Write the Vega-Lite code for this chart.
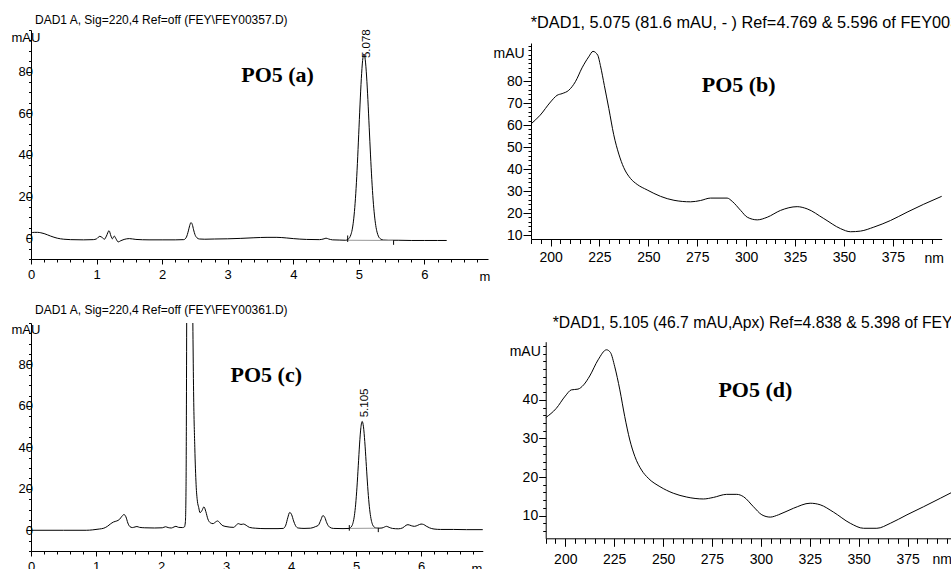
{
  "$schema": "https://vega.github.io/schema/vega-lite/v6.json",
  "width": 951,
  "height": 569,
  "autosize": "none",
  "padding": 0,
  "background": "white",
  "config": {
    "view": {"stroke": null},
    "axis": {
      "grid": false,
      "labelFont": "Liberation Sans",
      "titleFont": "Liberation Sans",
      "titleFontWeight": "normal",
      "domainColor": "#000",
      "tickColor": "#000",
      "labelColor": "#000",
      "titleColor": "#000",
      "labelOverlap": false,
      "labelFlush": false,
      "labelBound": false,
      "domainWidth": 1,
      "tickWidth": 1
    }
  },
  "datasets": {
    "chromA": [
      {"time": 0, "mAU": 2.6}, {"time": 0.05, "mAU": 2.8}, {"time": 0.1, "mAU": 2.8}, {"time": 0.15, "mAU": 2.6}, {"time": 0.2, "mAU": 2.2},
      {"time": 0.3, "mAU": 1.0}, {"time": 0.4, "mAU": 0.0}, {"time": 0.5, "mAU": -0.5}, {"time": 0.6, "mAU": -0.7}, {"time": 0.8, "mAU": -0.8},
      {"time": 0.95, "mAU": -0.7}, {"time": 1.0, "mAU": -0.3}, {"time": 1.05, "mAU": 0.9}, {"time": 1.09, "mAU": 0.2}, {"time": 1.12, "mAU": -0.5},
      {"time": 1.15, "mAU": 1.0}, {"time": 1.19, "mAU": 3.6}, {"time": 1.22, "mAU": 1.0}, {"time": 1.24, "mAU": -0.3}, {"time": 1.27, "mAU": 1.0},
      {"time": 1.3, "mAU": -0.5}, {"time": 1.33, "mAU": -1.8}, {"time": 1.37, "mAU": -1.2}, {"time": 1.42, "mAU": -0.6}, {"time": 1.5, "mAU": -0.2},
      {"time": 1.6, "mAU": -0.6}, {"time": 1.8, "mAU": -0.8}, {"time": 2.0, "mAU": -0.8}, {"time": 2.2, "mAU": -0.8}, {"time": 2.33, "mAU": -0.7},
      {"time": 2.37, "mAU": 0.5}, {"time": 2.4, "mAU": 3.5}, {"time": 2.42, "mAU": 6.0}, {"time": 2.44, "mAU": 7.5}, {"time": 2.46, "mAU": 6.6},
      {"time": 2.48, "mAU": 4.0}, {"time": 2.5, "mAU": 1.8}, {"time": 2.53, "mAU": 0.2}, {"time": 2.57, "mAU": -0.4}, {"time": 2.65, "mAU": -0.5},
      {"time": 2.8, "mAU": -0.4}, {"time": 3.0, "mAU": -0.3}, {"time": 3.2, "mAU": -0.1}, {"time": 3.4, "mAU": 0.2}, {"time": 3.6, "mAU": 0.4},
      {"time": 3.75, "mAU": 0.4}, {"time": 3.9, "mAU": 0.1}, {"time": 4.0, "mAU": -0.2}, {"time": 4.2, "mAU": -0.6}, {"time": 4.4, "mAU": -0.7},
      {"time": 4.47, "mAU": -0.3}, {"time": 4.5, "mAU": 0.0}, {"time": 4.54, "mAU": -0.4}, {"time": 4.6, "mAU": -0.8}, {"time": 4.7, "mAU": -0.9},
      {"time": 4.8, "mAU": -1.0}, {"time": 4.838, "mAU": -0.5}, {"time": 4.858, "mAU": 0.2}, {"time": 4.878, "mAU": 1.6}, {"time": 4.898, "mAU": 4.0},
      {"time": 4.918, "mAU": 8.2}, {"time": 4.938, "mAU": 14.7}, {"time": 4.958, "mAU": 23.9}, {"time": 4.978, "mAU": 35.8}, {"time": 4.998, "mAU": 49.7},
      {"time": 5.018, "mAU": 64.0}, {"time": 5.038, "mAU": 76.6}, {"time": 5.058, "mAU": 85.4}, {"time": 5.078, "mAU": 88.5}, {"time": 5.098, "mAU": 85.7},
      {"time": 5.118, "mAU": 77.9}, {"time": 5.138, "mAU": 66.6}, {"time": 5.158, "mAU": 53.3}, {"time": 5.178, "mAU": 40.0}, {"time": 5.198, "mAU": 28.1},
      {"time": 5.218, "mAU": 18.3}, {"time": 5.238, "mAU": 11.1}, {"time": 5.258, "mAU": 6.1}, {"time": 5.278, "mAU": 2.9}, {"time": 5.298, "mAU": 1.0},
      {"time": 5.328, "mAU": -0.3}, {"time": 5.378, "mAU": -0.9}, {"time": 5.45, "mAU": -1.0}, {"time": 5.6, "mAU": -1.0}, {"time": 5.8, "mAU": -1.1},
      {"time": 6.0, "mAU": -1.1}, {"time": 6.2, "mAU": -1.1}, {"time": 6.34, "mAU": -1.1}
    ],
    "chromC": [
      {"time": 0, "mAU": 0.0}, {"time": 0.5, "mAU": 0.0}, {"time": 0.85, "mAU": 0.0}, {"time": 0.95, "mAU": 0.2}, {"time": 1.05, "mAU": 0.6},
      {"time": 1.12, "mAU": 1.0}, {"time": 1.18, "mAU": 2.0}, {"time": 1.22, "mAU": 3.0}, {"time": 1.27, "mAU": 4.0}, {"time": 1.32, "mAU": 4.5},
      {"time": 1.36, "mAU": 5.2}, {"time": 1.4, "mAU": 6.8}, {"time": 1.43, "mAU": 7.6}, {"time": 1.46, "mAU": 6.5}, {"time": 1.49, "mAU": 3.5},
      {"time": 1.52, "mAU": 1.8}, {"time": 1.56, "mAU": 1.3}, {"time": 1.6, "mAU": 1.6}, {"time": 1.63, "mAU": 1.8}, {"time": 1.67, "mAU": 1.4},
      {"time": 1.75, "mAU": 1.2}, {"time": 1.9, "mAU": 1.1}, {"time": 2.02, "mAU": 1.2}, {"time": 2.07, "mAU": 1.7}, {"time": 2.11, "mAU": 1.3},
      {"time": 2.16, "mAU": 1.1}, {"time": 2.2, "mAU": 1.6}, {"time": 2.23, "mAU": 1.9}, {"time": 2.27, "mAU": 1.4}, {"time": 2.33, "mAU": 1.3},
      {"time": 2.36, "mAU": 1.6}, {"time": 2.375, "mAU": 4}, {"time": 2.385, "mAU": 20}, {"time": 2.39, "mAU": 50}, {"time": 2.395, "mAU": 100},
      {"time": 2.44, "mAU": null},
      {"time": 2.49, "mAU": 100}, {"time": 2.5, "mAU": 70}, {"time": 2.52, "mAU": 40}, {"time": 2.54, "mAU": 22}, {"time": 2.56, "mAU": 14},
      {"time": 2.58, "mAU": 11}, {"time": 2.6, "mAU": 8.5}, {"time": 2.63, "mAU": 9.5}, {"time": 2.66, "mAU": 11.3}, {"time": 2.69, "mAU": 9},
      {"time": 2.72, "mAU": 5.5}, {"time": 2.76, "mAU": 3.6}, {"time": 2.8, "mAU": 3.2}, {"time": 2.84, "mAU": 4.0}, {"time": 2.87, "mAU": 4.5},
      {"time": 2.9, "mAU": 3.8}, {"time": 2.94, "mAU": 2.4}, {"time": 3.0, "mAU": 1.8}, {"time": 3.06, "mAU": 1.5}, {"time": 3.12, "mAU": 1.4},
      {"time": 3.16, "mAU": 2.6}, {"time": 3.19, "mAU": 3.2}, {"time": 3.23, "mAU": 2.8}, {"time": 3.27, "mAU": 3.0}, {"time": 3.31, "mAU": 2.4},
      {"time": 3.36, "mAU": 1.4}, {"time": 3.45, "mAU": 1.0}, {"time": 3.6, "mAU": 0.8}, {"time": 3.8, "mAU": 0.8}, {"time": 3.88, "mAU": 0.9},
      {"time": 3.92, "mAU": 2.5}, {"time": 3.95, "mAU": 6.0}, {"time": 3.98, "mAU": 8.6}, {"time": 4.01, "mAU": 7.5}, {"time": 4.04, "mAU": 4.5},
      {"time": 4.07, "mAU": 2.2}, {"time": 4.11, "mAU": 1.1}, {"time": 4.2, "mAU": 0.9}, {"time": 4.3, "mAU": 1.0}, {"time": 4.38, "mAU": 1.8},
      {"time": 4.42, "mAU": 2.4}, {"time": 4.46, "mAU": 5.0}, {"time": 4.49, "mAU": 7.1}, {"time": 4.52, "mAU": 6.2}, {"time": 4.55, "mAU": 3.6},
      {"time": 4.59, "mAU": 1.6}, {"time": 4.65, "mAU": 0.9}, {"time": 4.8, "mAU": 0.8}, {"time": 4.9, "mAU": 0.9}, {"time": 4.915, "mAU": 1.3},
      {"time": 4.935, "mAU": 2.0}, {"time": 4.955, "mAU": 3.7}, {"time": 4.975, "mAU": 7.0}, {"time": 4.995, "mAU": 12.6}, {"time": 5.015, "mAU": 20.8},
      {"time": 5.035, "mAU": 31.1}, {"time": 5.055, "mAU": 41.6}, {"time": 5.075, "mAU": 49.5}, {"time": 5.095, "mAU": 52.5}, {"time": 5.115, "mAU": 49.9},
      {"time": 5.135, "mAU": 42.8}, {"time": 5.155, "mAU": 33.2}, {"time": 5.175, "mAU": 23.3}, {"time": 5.195, "mAU": 14.9}, {"time": 5.215, "mAU": 8.8},
      {"time": 5.235, "mAU": 4.9}, {"time": 5.255, "mAU": 2.7}, {"time": 5.275, "mAU": 1.7}, {"time": 5.305, "mAU": 1.1}, {"time": 5.35, "mAU": 1.0},
      {"time": 5.4, "mAU": 1.1}, {"time": 5.44, "mAU": 1.6}, {"time": 5.47, "mAU": 1.9}, {"time": 5.51, "mAU": 1.4}, {"time": 5.56, "mAU": 0.9},
      {"time": 5.65, "mAU": 0.7}, {"time": 5.72, "mAU": 1.2}, {"time": 5.77, "mAU": 2.4}, {"time": 5.8, "mAU": 2.7}, {"time": 5.85, "mAU": 2.2},
      {"time": 5.9, "mAU": 1.9}, {"time": 5.95, "mAU": 2.4}, {"time": 6.0, "mAU": 3.0}, {"time": 6.04, "mAU": 2.8}, {"time": 6.08, "mAU": 2.0},
      {"time": 6.13, "mAU": 1.2}, {"time": 6.2, "mAU": 0.6}, {"time": 6.3, "mAU": 0.4}, {"time": 6.5, "mAU": 0.4}, {"time": 6.7, "mAU": 0.3},
      {"time": 6.95, "mAU": 0.3}
    ],
    "specB": [
      {"nm": 190, "mAU": 60.5}, {"nm": 194.7, "mAU": 64.5}, {"nm": 200, "mAU": 70.5}, {"nm": 203.3, "mAU": 73.5}, {"nm": 205.9, "mAU": 74.3},
      {"nm": 209.3, "mAU": 75.8}, {"nm": 212.7, "mAU": 79.7}, {"nm": 216.1, "mAU": 86}, {"nm": 219.5, "mAU": 91}, {"nm": 221.7, "mAU": 93.5},
      {"nm": 224.1, "mAU": 91.8}, {"nm": 225.5, "mAU": 87}, {"nm": 227.5, "mAU": 78}, {"nm": 229.8, "mAU": 67.5}, {"nm": 232.3, "mAU": 55.6},
      {"nm": 234.9, "mAU": 46.8}, {"nm": 237.4, "mAU": 40.7}, {"nm": 240.9, "mAU": 35.7}, {"nm": 244.3, "mAU": 33}, {"nm": 249.4, "mAU": 30.5},
      {"nm": 256.2, "mAU": 27.6}, {"nm": 263.1, "mAU": 25.8}, {"nm": 271.6, "mAU": 25.1}, {"nm": 276.7, "mAU": 25.7}, {"nm": 281.8, "mAU": 26.8},
      {"nm": 290.3, "mAU": 26.8}, {"nm": 292.9, "mAU": 25.3}, {"nm": 297.2, "mAU": 21.2}, {"nm": 300.6, "mAU": 18.1}, {"nm": 305.7, "mAU": 16.9},
      {"nm": 310.8, "mAU": 18.1}, {"nm": 317.6, "mAU": 21.2}, {"nm": 326.1, "mAU": 22.9}, {"nm": 331.2, "mAU": 21.9}, {"nm": 339.7, "mAU": 17.5},
      {"nm": 348.3, "mAU": 12.9}, {"nm": 353.4, "mAU": 11.5}, {"nm": 358.5, "mAU": 11.8}, {"nm": 365.3, "mAU": 13.6}, {"nm": 373.8, "mAU": 16.6},
      {"nm": 382.3, "mAU": 20.4}, {"nm": 390.8, "mAU": 24}, {"nm": 400, "mAU": 27.6}
    ],
    "specD": [
      {"nm": 190, "mAU": 35.4}, {"nm": 195.4, "mAU": 37.8}, {"nm": 200, "mAU": 41}, {"nm": 203.1, "mAU": 42.6}, {"nm": 206.5, "mAU": 42.8},
      {"nm": 209.4, "mAU": 43.9}, {"nm": 212.5, "mAU": 46.2}, {"nm": 216.8, "mAU": 50.4}, {"nm": 221.1, "mAU": 53}, {"nm": 223.1, "mAU": 52.3},
      {"nm": 225.3, "mAU": 48.6}, {"nm": 227.9, "mAU": 42.6}, {"nm": 230.4, "mAU": 35.7}, {"nm": 233, "mAU": 29.6}, {"nm": 235.6, "mAU": 25.3},
      {"nm": 239, "mAU": 21.8}, {"nm": 242.4, "mAU": 19.7}, {"nm": 248.4, "mAU": 17.5}, {"nm": 255.2, "mAU": 15.8}, {"nm": 262.1, "mAU": 14.8},
      {"nm": 270.6, "mAU": 14.3}, {"nm": 275.7, "mAU": 14.7}, {"nm": 282.5, "mAU": 15.5}, {"nm": 287.7, "mAU": 15.5}, {"nm": 291.1, "mAU": 14.9},
      {"nm": 296.2, "mAU": 12.3}, {"nm": 300.5, "mAU": 10.2}, {"nm": 304.8, "mAU": 9.6}, {"nm": 309, "mAU": 10.2}, {"nm": 316.7, "mAU": 11.9},
      {"nm": 325.2, "mAU": 13.2}, {"nm": 330.3, "mAU": 12.8}, {"nm": 337.1, "mAU": 10.9}, {"nm": 345.7, "mAU": 8.0}, {"nm": 352.5, "mAU": 6.7},
      {"nm": 359.3, "mAU": 6.7}, {"nm": 366.2, "mAU": 8.0}, {"nm": 374.7, "mAU": 10.2}, {"nm": 383.2, "mAU": 12.3}, {"nm": 391.8, "mAU": 14.5},
      {"nm": 397.2, "mAU": 15.9}
    ]
  },
  "layer": [
    {
      "layer": [
        {
          "data": {"name": "chromA"},
          "mark": {"type": "line", "color": "#000", "strokeWidth": 1, "interpolate": "monotone"},
          "encoding": {
            "x": {"field": "time", "type": "quantitative",
              "scale": {"domain": [0, 6.97], "range": [31, 488], "nice": false, "zero": false},
              "axis": {"orient": "bottom", "offset": -310, "labelOverlap": false,
                "values": [0, 1, 2, 3, 4, 5, 6], "format": "d", "tickSize": 5,
                "labelPadding": 4, "labelFontSize": 13,
                "title": "m", "titleX": 479, "titleY": 21, "titleAlign": "left", "titleBaseline": "alphabetic", "titleFontSize": 13}},
            "y": {"field": "mAU", "type": "quantitative",
              "scale": {"domain": [-10, 100], "range": [259, 30], "nice": false, "zero": false},
              "axis": {"orient": "left", "offset": -31, "labelOverlap": false,
                "values": [0, 20, 40, 60, 80], "format": "d", "tickSize": 5,
                "labelPadding": -6.5, "labelFontSize": 13,
                "title": "mAU", "titleAngle": 0, "titleX": -20, "titleY": 41, "titleAlign": "left", "titleBaseline": "alphabetic", "titleFontSize": 13}}
          }
        },
        {
          "data": {"values": [{}]},
          "mark": {"type": "rule", "color": "#999", "strokeWidth": 1},
          "encoding": {"x": {"datum": 4.83}, "x2": {"datum": 5.53}, "y": {"datum": -1.0}, "y2": {"datum": -1.1}}
        },
        {
          "data": {"values": [{}]},
          "mark": {"type": "rule", "color": "#000", "strokeWidth": 1},
          "encoding": {"x": {"datum": 4.83}, "y": {"datum": -1.8}, "y2": {"datum": 1.3}}
        },
        {
          "data": {"values": [{}]},
          "mark": {"type": "rule", "color": "#000", "strokeWidth": 1},
          "encoding": {"x": {"datum": 5.53}, "y": {"datum": -3.2}, "y2": {"datum": -1.0}}
        },
        {
          "data": {"values": [{}]},
          "mark": {"type": "text", "text": "DAD1 A, Sig=220,4 Ref=off (FEY\\FEY00357.D)", "font": "Liberation Sans", "fontSize": 12, "align": "left", "baseline": "alphabetic", "color": "#000"},
          "encoding": {"x": {"datum": 0.061}, "y": {"datum": 102.8}}
        },
        {
          "data": {"values": [{}]},
          "mark": {"type": "text", "text": "PO5 (a)", "font": "Liberation Serif", "fontSize": 22, "fontWeight": "bold", "align": "center", "baseline": "alphabetic", "color": "#000"},
          "encoding": {"x": {"datum": 3.76}, "y": {"datum": 75.2}}
        },
        {
          "data": {"values": [{}]},
          "mark": {"type": "text", "text": "5.078", "font": "Liberation Sans", "fontSize": 11.5, "angle": 270, "align": "left", "baseline": "middle", "color": "#000"},
          "encoding": {"x": {"datum": 5.132}, "y": {"datum": 86.5}}
        }
      ]
    },
    {
      "data": {"values": [{}]},
      "mark": {"type": "point", "opacity": 0},
      "encoding": {
        "x": {"datum": 0, "type": "quantitative",
          "scale": {"domain": [0, 6.97], "range": [31, 488], "nice": false, "zero": false},
          "axis": {"orient": "bottom", "offset": -310, "domain": false, "labels": false, "title": null, "tickSize": 3,
            "values": [0.2,0.4,0.6,0.8,1.2,1.4,1.6,1.8,2.2,2.4,2.6,2.8,3.2,3.4,3.6,3.8,4.2,4.4,4.6,4.8,5.2,5.4,5.6,5.8,6.2,6.4,6.6,6.8]}},
        "y": {"datum": 0, "type": "quantitative",
          "scale": {"domain": [-10, 100], "range": [259, 30], "nice": false, "zero": false},
          "axis": {"orient": "left", "offset": -31, "domain": false, "labels": false, "title": null, "tickSize": 2.5,
            "values": [-10,-5,5,10,15,25,30,35,45,50,55,65,70,75,85,90,95,100]}}
      }
    },
    {
      "layer": [
        {
          "data": {"name": "specB"},
          "mark": {"type": "line", "color": "#000", "strokeWidth": 1, "interpolate": "monotone"},
          "encoding": {
            "x": {"field": "nm", "type": "quantitative",
              "scale": {"domain": [190, 400], "range": [531, 941.7], "nice": false, "zero": false},
              "axis": {"orient": "bottom", "offset": -330, "labelOverlap": false,
                "values": [200, 225, 250, 275, 300, 325, 350, 375], "format": "d", "tickSize": 7,
                "labelPadding": 4.5, "labelFontSize": 14,
                "title": "nm", "titleX": 924, "titleY": 23, "titleAlign": "left", "titleBaseline": "alphabetic", "titleFontSize": 14}},
            "y": {"field": "mAU", "type": "quantitative",
              "scale": {"domain": [8.2, 97.3], "range": [239, 43], "nice": false, "zero": false},
              "axis": {"orient": "left", "offset": -531, "labelOverlap": false,
                "values": [10, 20, 30, 40, 50, 60, 70, 80], "format": "d", "tickSize": 8,
                "labelPadding": 1, "labelFontSize": 14,
                "title": "mAU", "titleAngle": 0, "titleX": -38, "titleY": 57, "titleAlign": "left", "titleBaseline": "alphabetic", "titleFontSize": 14}}
          }
        },
        {
          "data": {"values": [{}]},
          "mark": {"type": "text", "text": "*DAD1, 5.075 (81.6 mAU, - ) Ref=4.769 & 5.596 of FEY00357.D", "font": "Liberation Sans", "fontSize": 16.3, "align": "left", "baseline": "alphabetic", "color": "#000"},
          "encoding": {"x": {"datum": 189.85}, "y": {"datum": 104.0}}
        },
        {
          "data": {"values": [{}]},
          "mark": {"type": "text", "text": "PO5 (b)", "font": "Liberation Serif", "fontSize": 22, "fontWeight": "bold", "align": "center", "baseline": "alphabetic", "color": "#000"},
          "encoding": {"x": {"datum": 296.2}, "y": {"datum": 75.2}}
        }
      ]
    },
    {
      "data": {"values": [{}]},
      "mark": {"type": "point", "opacity": 0},
      "encoding": {
        "x": {"datum": 200, "type": "quantitative",
          "scale": {"domain": [190, 400], "range": [531, 941.7], "nice": false, "zero": false},
          "axis": {"orient": "bottom", "offset": -330, "domain": false, "labels": false, "title": null, "tickSize": 4.5,
            "values": [190,195,205,210,215,220,230,235,240,245,255,260,265,270,280,285,290,295,305,310,315,320,330,335,340,345,355,360,365,370,380,385,390,395]}},
        "y": {"datum": 10, "type": "quantitative",
          "scale": {"domain": [8.2, 97.3], "range": [239, 43], "nice": false, "zero": false},
          "axis": {"orient": "left", "offset": -531, "domain": false, "labels": false, "title": null, "tickSize": 3,
            "values": [12,14,16,18,22,24,26,28,32,34,36,38,42,44,46,48,52,54,56,58,62,64,66,68,72,74,76,78,82,84,86,88,90,92,94,96]}}
      }
    },
    {
      "layer": [
        {
          "data": {"name": "chromC"},
          "mark": {"type": "line", "color": "#000", "strokeWidth": 1, "interpolate": "monotone", "invalid": "break-paths-filter-domains"},
          "encoding": {
            "x": {"field": "time", "type": "quantitative",
              "scale": {"domain": [0, 6.95], "range": [31, 482.75], "nice": false, "zero": false},
              "axis": {"orient": "bottom", "offset": -18, "labelOverlap": false,
                "values": [0, 1, 2, 3, 4, 5, 6], "format": "d", "tickSize": 5,
                "labelPadding": 4.5, "labelFontSize": 13,
                "title": "m", "titleX": 471, "titleY": 21, "titleAlign": "left", "titleBaseline": "alphabetic", "titleFontSize": 13}},
            "y": {"field": "mAU", "type": "quantitative",
              "scale": {"domain": [-10, 100], "range": [551, 323], "nice": false, "zero": false},
              "axis": {"orient": "left", "offset": -31, "labelOverlap": false,
                "values": [0, 20, 40, 60, 80], "format": "d", "tickSize": 5,
                "labelPadding": -6.5, "labelFontSize": 13,
                "title": "mAU", "titleAngle": 0, "titleX": -20, "titleY": 333, "titleAlign": "left", "titleBaseline": "alphabetic", "titleFontSize": 13}}
          }
        },
        {
          "data": {"values": [{}]},
          "mark": {"type": "rule", "color": "#999", "strokeWidth": 1},
          "encoding": {"x": {"datum": 4.897}, "x2": {"datum": 5.343}, "y": {"datum": 0.9}, "y2": {"datum": 1.0}}
        },
        {
          "data": {"values": [{}]},
          "mark": {"type": "rule", "color": "#000", "strokeWidth": 1},
          "encoding": {"x": {"datum": 4.897}, "y": {"datum": -0.2}, "y2": {"datum": 2.5}}
        },
        {
          "data": {"values": [{}]},
          "mark": {"type": "rule", "color": "#000", "strokeWidth": 1},
          "encoding": {"x": {"datum": 5.343}, "y": {"datum": -0.9}, "y2": {"datum": 1.2}}
        },
        {
          "data": {"values": [{}]},
          "mark": {"type": "text", "text": "DAD1 A, Sig=220,4 Ref=off (FEY\\FEY00361.D)", "font": "Liberation Sans", "fontSize": 12, "align": "left", "baseline": "alphabetic", "color": "#000"},
          "encoding": {"x": {"datum": 0.062}, "y": {"datum": 104.5}}
        },
        {
          "data": {"values": [{}]},
          "mark": {"type": "text", "text": "PO5 (c)", "font": "Liberation Serif", "fontSize": 22, "fontWeight": "bold", "align": "center", "baseline": "alphabetic", "color": "#000"},
          "encoding": {"x": {"datum": 3.62}, "y": {"datum": 71.7}}
        },
        {
          "data": {"values": [{}]},
          "mark": {"type": "text", "text": "5.105", "font": "Liberation Sans", "fontSize": 11.5, "angle": 270, "align": "left", "baseline": "middle", "color": "#000"},
          "encoding": {"x": {"datum": 5.138}, "y": {"datum": 54.5}}
        }
      ]
    },
    {
      "data": {"values": [{}]},
      "mark": {"type": "point", "opacity": 0},
      "encoding": {
        "x": {"datum": 0, "type": "quantitative",
          "scale": {"domain": [0, 6.95], "range": [31, 482.75], "nice": false, "zero": false},
          "axis": {"orient": "bottom", "offset": -18, "domain": false, "labels": false, "title": null, "tickSize": 3,
            "values": [0.2,0.4,0.6,0.8,1.2,1.4,1.6,1.8,2.2,2.4,2.6,2.8,3.2,3.4,3.6,3.8,4.2,4.4,4.6,4.8,5.2,5.4,5.6,5.8,6.2,6.4,6.6,6.8]}},
        "y": {"datum": 0, "type": "quantitative",
          "scale": {"domain": [-10, 100], "range": [551, 323], "nice": false, "zero": false},
          "axis": {"orient": "left", "offset": -31, "domain": false, "labels": false, "title": null, "tickSize": 2.5,
            "values": [-10,-5,5,10,15,25,30,35,45,50,55,65,70,75,85,90,95,100]}}
      }
    },
    {
      "layer": [
        {
          "data": {"name": "specD"},
          "mark": {"type": "line", "color": "#000", "strokeWidth": 1, "interpolate": "monotone"},
          "encoding": {
            "x": {"field": "nm", "type": "quantitative",
              "scale": {"domain": [190, 397.2], "range": [545.7, 951], "nice": false, "zero": false},
              "axis": {"orient": "bottom", "offset": -30.7, "labelOverlap": false,
                "values": [200, 225, 250, 275, 300, 325, 350, 375], "format": "d", "tickSize": 8,
                "labelPadding": 6, "labelFontSize": 14,
                "title": "nm", "titleX": 932, "titleY": 25, "titleAlign": "left", "titleBaseline": "alphabetic", "titleFontSize": 14}},
            "y": {"field": "mAU", "type": "quantitative",
              "scale": {"domain": [4.1, 55.1], "range": [538.3, 341.7], "nice": false, "zero": false},
              "axis": {"orient": "left", "offset": -545.7, "labelOverlap": false,
                "values": [10, 20, 30, 40], "format": "d", "tickSize": 7,
                "labelPadding": 1, "labelFontSize": 14,
                "title": "mAU", "titleAngle": 0, "titleX": -36.5, "titleY": 355, "titleAlign": "left", "titleBaseline": "alphabetic", "titleFontSize": 14}}
          }
        },
        {
          "data": {"values": [{}]},
          "mark": {"type": "text", "text": "*DAD1, 5.105 (46.7 mAU,Apx) Ref=4.838 & 5.398 of FEY00361.D", "font": "Liberation Sans", "fontSize": 15.7, "align": "left", "baseline": "alphabetic", "color": "#000"},
          "encoding": {"x": {"datum": 193.6}, "y": {"datum": 58.6}}
        },
        {
          "data": {"values": [{}]},
          "mark": {"type": "text", "text": "PO5 (d)", "font": "Liberation Serif", "fontSize": 22, "fontWeight": "bold", "align": "center", "baseline": "alphabetic", "color": "#000"},
          "encoding": {"x": {"datum": 297.2}, "y": {"datum": 40.8}}
        }
      ]
    },
    {
      "data": {"values": [{}]},
      "mark": {"type": "point", "opacity": 0},
      "encoding": {
        "x": {"datum": 200, "type": "quantitative",
          "scale": {"domain": [190, 397.2], "range": [545.7, 951], "nice": false, "zero": false},
          "axis": {"orient": "bottom", "offset": -30.7, "domain": false, "labels": false, "title": null, "tickSize": 5,
            "values": [190,195,205,210,215,220,230,235,240,245,255,260,265,270,280,285,290,295,305,310,315,320,330,335,340,345,355,360,365,370,380,385,390,395]}},
        "y": {"datum": 10, "type": "quantitative",
          "scale": {"domain": [4.1, 55.1], "range": [538.3, 341.7], "nice": false, "zero": false},
          "axis": {"orient": "left", "offset": -545.7, "domain": false, "labels": false, "title": null, "tickSize": 3,
            "values": [6,8,12,14,16,18,22,24,26,28,32,34,36,38,42,44,46,48,50,52,54]}}
      }
    }
  ],
  "resolve": {"scale": {"x": "independent", "y": "independent"}, "axis": {"x": "independent", "y": "independent"}}
}
